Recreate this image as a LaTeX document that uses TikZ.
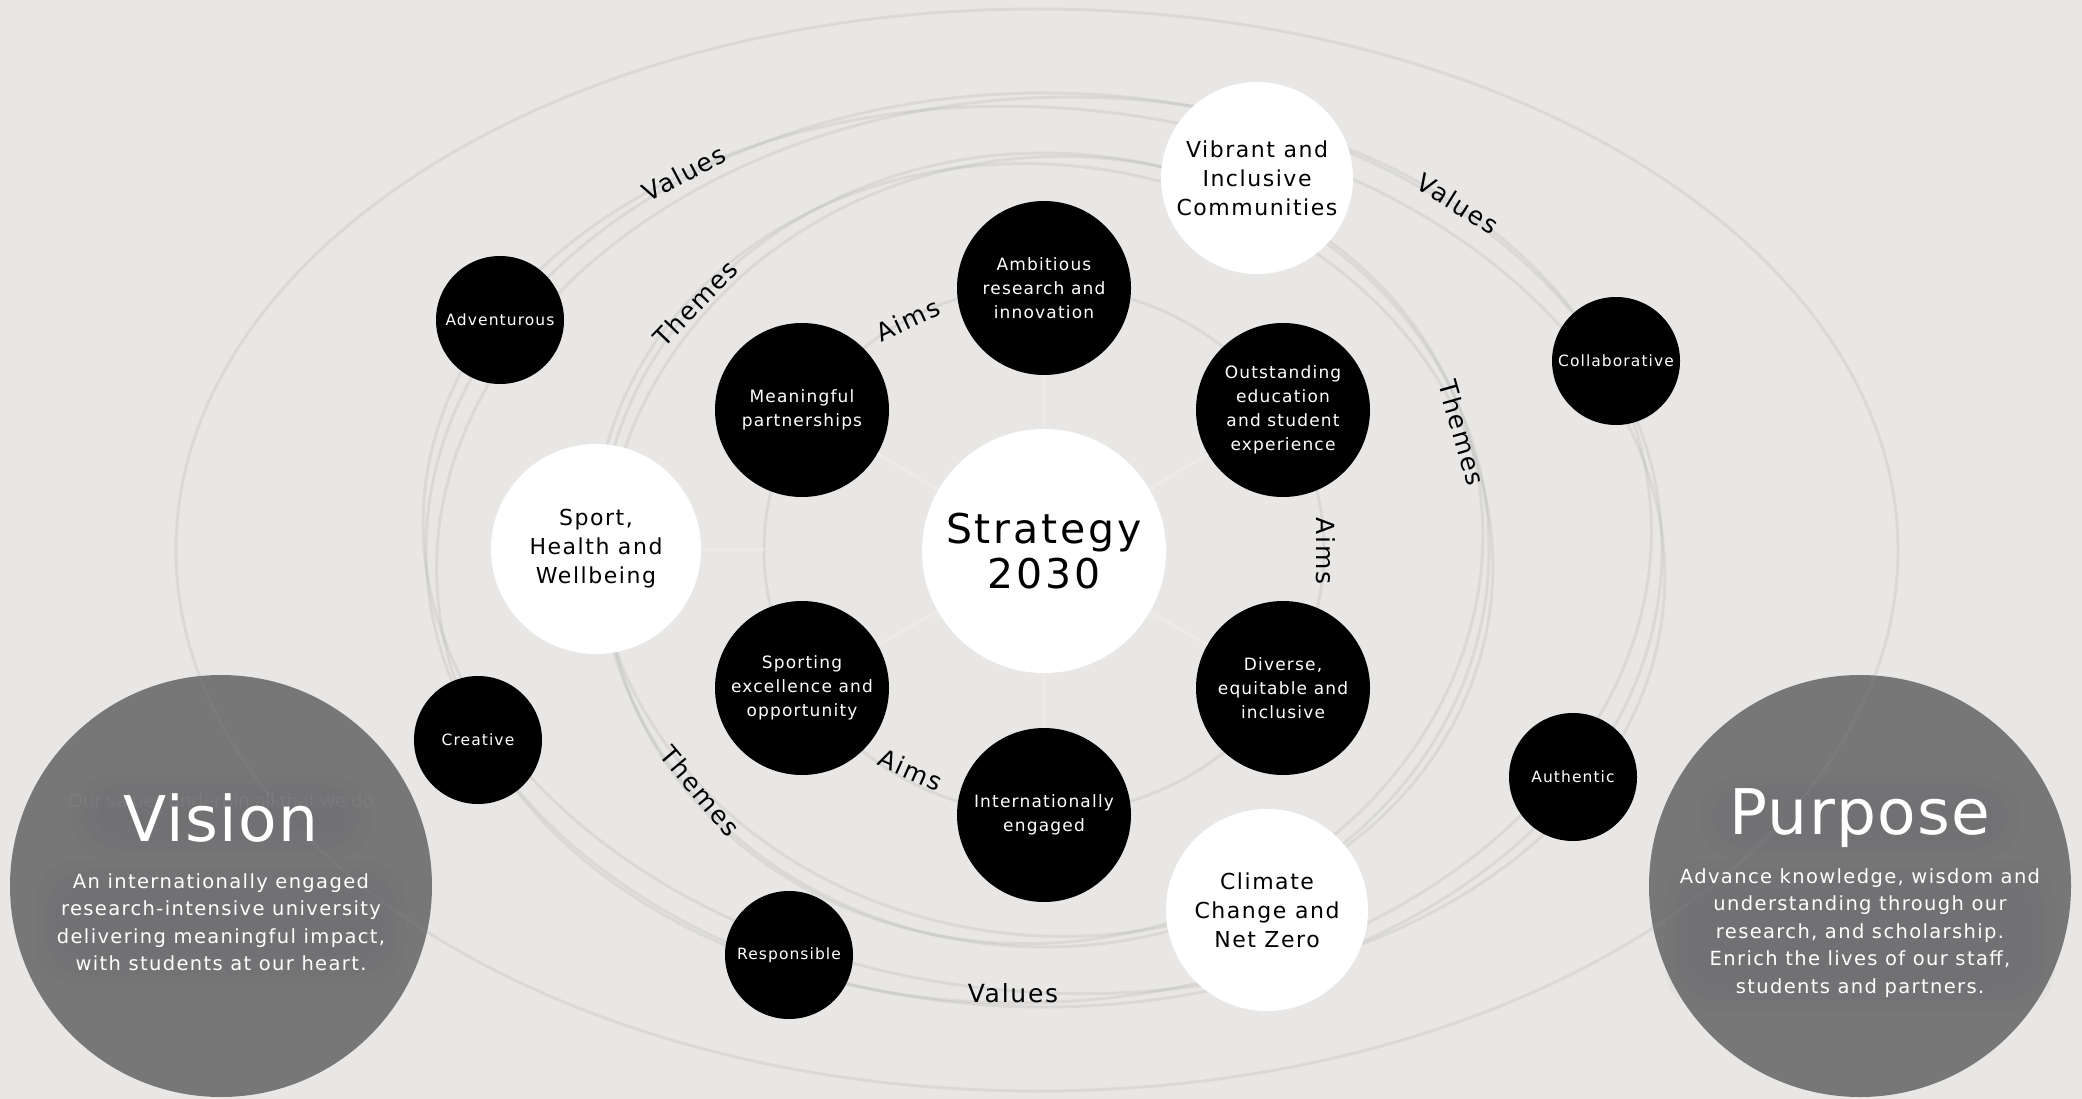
\documentclass[tikz,border=0pt]{standalone}
\usepackage{fontspec}
\setmainfont{DejaVu Sans}[LetterSpace=7.0]
\newfontfamily\titlefont{DejaVu Sans}[LetterSpace=2.0]
\newfontfamily\faintfont{Open Sans}
\newcommand\fsz[2]{\fontsize{#1}{#2}\selectfont}
\definecolor{bgc}{HTML}{E8E7E5}
\definecolor{ringc}{HTML}{959595}
\definecolor{spokec}{HTML}{ECEBEA}
\definecolor{bigc}{HTML}{777777}
\definecolor{hazec}{HTML}{55535E}
\begin{document}
\begin{tikzpicture}[x=1pt,y=-1pt,
  orbit/.style={draw=ringc, draw opacity=0.16, line width=3pt},
  spoke/.style={draw=spokec, line width=3pt},
  aimnode/.style={circle, fill=black, text=white, minimum size=174pt, inner sep=0pt, align=center, font={\fsz{17}{24}}},
  themenode/.style={circle, fill=white, text=black, inner sep=0pt, align=center, font={\fsz{22}{29}}},
  valnode/.style={circle, fill=black, text=white, minimum size=128pt, inner sep=0pt, align=center, font={\fsz{15.5}{20}}},
  bignode/.style={circle, fill=bigc, minimum size=422pt, inner sep=0pt},
  bigtitle/.style={text=white, font={\titlefont\fsz{63}{70}}},
  bigbody/.style={text=white, align=center, font={\fsz{19.5}{27.5}}},
  lbl/.style={text=black, font={\fsz{25}{30}}, inner sep=0pt},
  haze/.style={fill=hazec, fill opacity=0.03, rounded corners=40pt}
]
\useasboundingbox (0,0) rectangle (2082,1099);
\fill[bgc] (0,0) rectangle (2082,1099);

% Vision and Purpose discs (below the orbits)
\node[bignode] (vision) at (221,886) {};
\node[bignode] (purpose) at (1860,886) {};

% orbits
\coordinate (c) at (1044,550);
\draw[orbit] (1037,550) ellipse [x radius=861pt, y radius=541pt];
\draw[orbit] (c) ellipse [x radius=618pt, y radius=457pt];
\draw[orbit, rotate around={4:(c)}] (c) ellipse [x radius=608pt, y radius=452pt];
\draw[orbit, rotate around={-5:(c)}] (c) ellipse [x radius=622pt, y radius=442pt];
\draw[orbit] (c) ellipse [x radius=445pt, y radius=397pt];
\draw[orbit, rotate around={10:(c)}] (c) ellipse [x radius=440pt, y radius=392pt];
\draw[orbit, rotate around={-8:(c)}] (c) ellipse [x radius=450pt, y radius=385pt];
\draw[orbit] (c) ellipse [x radius=280pt, y radius=264pt];

% haze behind Vision / Purpose texts
\foreach \d in {0,10,20,30}{
  \fill[haze] (221-150+\d,775+\d) rectangle (221+150-\d,860-\d);
  \fill[haze] (221-185+\d,860+\d) rectangle (221+185-\d,985-\d);
  \fill[haze] (1860-160+\d,775+\d) rectangle (1860+160-\d,860-\d);
  \fill[haze] (1860-195+\d,860+\d) rectangle (1860+195-\d,1010-\d);
}

% centre and aims
\node[circle, fill=white, minimum size=244pt, inner sep=0pt, align=center, font={\fsz{41}{45}}] (strategy) at (1044,551) {Strategy\\2030};
\node[aimnode] (ambitious) at (1044,288) {Ambitious\\research and\\innovation};
\node[aimnode] (meaningful) at (802,410) {Meaningful\\partnerships};
\node[aimnode] (outstanding) at (1283,410) {Outstanding\\education\\and student\\experience};
\node[aimnode] (sporting) at (802,688) {Sporting\\excellence and\\opportunity};
\node[aimnode] (diverse) at (1283,688) {Diverse,\\equitable and\\inclusive};
\node[aimnode] (intl) at (1044,815) {Internationally\\engaged};

% spokes between the centre and aims
\foreach \n in {ambitious,meaningful,outstanding,sporting,diverse,intl}
  \draw[spoke] (strategy) -- (\n);

% themes
\node[themenode, minimum size=210pt] (sport) at (596,549) {Sport,\\Health and\\Wellbeing};
\node[themenode, minimum size=192pt] (vibrant) at (1257,178) {Vibrant and\\Inclusive\\Communities};
\node[themenode, minimum size=202pt] (climate) at (1267,910) {Climate\\Change and\\Net Zero};
\coordinate (sportend) at (764,549);
\draw[spoke] (sport) -- (sportend);

% values
\node[valnode] (adventurous) at (500,320) {Adventurous};
\node[valnode] (collaborative) at (1616,361) {Collaborative};
\node[valnode] (creative) at (478,740) {Creative};
\node[valnode] (authentic) at (1573,777) {Authentic};
\node[valnode] (responsible) at (789,955) {Responsible};

% orbit labels
\node[lbl, rotate=28] (lv1) at (684,173) {Values};
\node[lbl, rotate=46] (lt1) at (695,303) {Themes};
\node[lbl, rotate=25] (la1) at (908,320) {Aims};
\node[lbl, rotate=-32] (lv2) at (1458,204) {Values};
\node[lbl, rotate=-74] (lt2) at (1462,433) {Themes};
\node[lbl, rotate=-90] (la2) at (1326,551) {Aims};
\node[lbl, rotate=-50] (lt3) at (700,791) {Themes};
\node[lbl, rotate=-24] (la3) at (911,770) {Aims};
\node[lbl] (lv3) at (1013,993) {Values};

% Vision and Purpose texts
\node[text=white, opacity=0.06, font={\faintfont\fsz{19}{22}}] (faint) at (221,803) {Our values underpin all that we do};
\node[bigtitle] (visiont) at (221,818) {Vision};
\node[bigbody] (visionb) at (221,922) {An internationally engaged\\research-intensive university\\delivering meaningful impact,\\with students at our heart.};
\node[bigtitle] (purposet) at (1860,818) {Purpose};
\node[bigbody] (purposeb) at (1860,933) {Advance knowledge, wisdom and\\understanding through our\\research, and scholarship.\\Enrich the lives of our staff,\\students and partners.};
\end{tikzpicture}
\end{document}
